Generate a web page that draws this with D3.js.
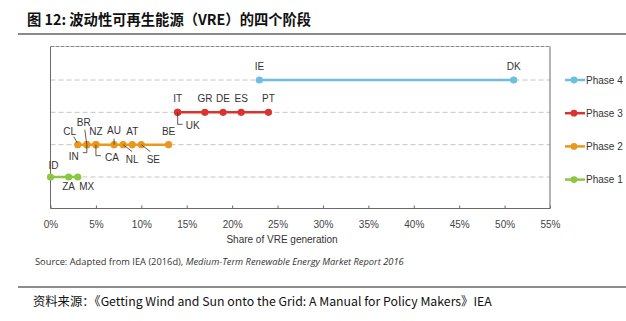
<!DOCTYPE html>
<html lang="zh">
<head>
  <meta charset="UTF-8">
  <title>波动性可再生能源（VRE）的四个阶段</title>
  <style>
    body { margin: 0; background: #fff; }
    svg { display: block; }
    .lbl { font-family: "Liberation Sans", Arial, sans-serif; font-size: 10px; fill: #333; }
    .tick text { font-family: "Liberation Sans", Arial, sans-serif; font-size: 10px; fill: #444; }
  </style>
</head>
<body>
  <div id="chart"></div>

  <script src="https://d3js.org/d3.v7.min.js"></script>
  <script>
    const width = 626, height = 321;

    // 数据：各阶段国家的 VRE 发电占比（%）
    const phases = ["Phase 1", "Phase 2", "Phase 3", "Phase 4"];
    const phase1 = [["ID", 0], ["ZA", 2], ["MX", 3]];
    const phase2 = [["CL", 3], ["BR", 4], ["IN", 4], ["NZ", 5], ["CA", 5],
                    ["AU", 7], ["NL", 8], ["AT", 9], ["SE", 10], ["BE", 13]];
    const phase3 = [["IT", 14], ["UK", 14], ["GR", 17], ["DE", 19], ["ES", 21], ["PT", 24]];
    const phase4 = [["IE", 23], ["DK", 51]];
    const xTicks = [0, 5, 10, 15, 20, 25, 30, 35, 40, 45, 50, 55];

    const series = [phase1, phase2, phase3, phase4];
    const colors = ["#8dc63f", "#e8981d", "#d9342f", "#6fbde0"];

    // 标签位置（相对数据点）；没列出的默认放在点上方
    const labelPos = {
      ID: { dx: 3, dy: -8 },
      ZA: { dx: 0, dy: 13 },
      MX: { dx: 9, dy: 13 },
      CL: { dx: -8, dy: -10, leader: [[-4, -8], [-0.5, -2]] },
      BR: { dx: -3, dy: -19, leader: [[-2, -15], [0, 0]] },
      IN: { dx: -13, dy: 15, leader: [[0, 0], [0, 8], [-4, 8]] },
      CA: { dx: 16, dy: 16, leader: [[0, 0], [0, 11], [5, 11]] },
      AU: { dx: 0, dy: -11, leader: [[0, -6], [0, 0]] },
      NL: { dx: 9, dy: 18, leader: [[0, 0], [9, 7]] },
      SE: { dx: 12, dy: 18, leader: [[0, 0], [9, 7]] },
      UK: { dx: 15, dy: 17, leader: [[0, 0], [0, 12], [5, 12]] }
    };

    const svg = d3.select("#chart").append("svg")
      .attr("width", width)
      .attr("height", height);

    // 标题
    svg.append("text")
      .attr("x", 27).attr("y", 25)
      .attr("font-family", "'Noto Sans CJK SC', sans-serif")
      .attr("font-weight", "bold")
      .attr("font-size", 14.3)
      .attr("fill", "#111")
      .text("图 12:  波动性可再生能源（VRE）的四个阶段");

    svg.append("line")
      .attr("x1", 18).attr("x2", width).attr("y1", 34).attr("y2", 34)
      .attr("stroke", "#8a8a8a").attr("stroke-width", 2);

    const plotL = 50.5, plotR = 550, plotT = 46.5, plotB = 208.5;

    const x = d3.scaleLinear().domain([0, 55]).range([plotL, plotR]);
    const y = d3.scalePoint().domain(phases).range([177, 80]);

    // 网格虚线
    svg.append("g").selectAll("line")
      .data(phases)
      .join("line")
      .attr("x1", plotL).attr("x2", plotR)
      .attr("y1", d => y(d)).attr("y2", d => y(d))
      .attr("stroke", "#c4c4c4")
      .attr("stroke-dasharray", "5,3");

    // 边框
    svg.append("line")
      .attr("x1", plotL).attr("x2", plotR).attr("y1", plotT).attr("y2", plotT)
      .attr("stroke", "#8a8a8a").attr("stroke-dasharray", "4,1");
    svg.append("path")
      .attr("d", `M${plotL},${plotT}V${plotB}H${plotR}V${plotT}`)
      .attr("fill", "none")
      .attr("stroke", "#6a6a6a");

    // x 轴
    const xAxis = d3.axisBottom(x)
      .tickValues(xTicks)
      .tickSize(-3)
      .tickPadding(12)
      .tickFormat(d => d + "%");
    const gx = svg.append("g")
      .attr("transform", `translate(0,${plotB})`)
      .call(xAxis);
    gx.select(".domain").remove();
    gx.selectAll(".tick line").attr("stroke", "#6a6a6a");

    svg.append("text")
      .attr("class", "lbl")
      .attr("x", 282).attr("y", 243)
      .attr("text-anchor", "middle")
      .attr("fill", "#222")
      .text("Share of VRE generation");

    // 各阶段连线与点
    series.forEach((pts, i) => {
      const py = y(phases[i]);
      const g = svg.append("g");

      const ext = d3.extent(pts, d => d[1]);
      g.append("line")
        .attr("x1", x(ext[0])).attr("x2", x(ext[1]))
        .attr("y1", py).attr("y2", py)
        .attr("stroke", colors[i])
        .attr("stroke-width", 2.5);

      g.selectAll("circle")
        .data(pts)
        .join("circle")
        .attr("cx", d => x(d[1]))
        .attr("cy", py)
        .attr("r", 3.6)
        .attr("fill", colors[i]);

      pts.forEach(d => {
        const cx = x(d[1]);
        const pos = labelPos[d[0]] || { dx: 0, dy: -10 };
        if (pos.leader) {
          g.append("polyline")
            .attr("points", pos.leader.map(p => [cx + p[0], py + p[1]].join(",")).join(" "))
            .attr("fill", "none")
            .attr("stroke", "#333")
            .attr("stroke-width", 0.8);
        }
        g.append("text")
          .attr("class", "lbl")
          .attr("x", cx + pos.dx)
          .attr("y", py + pos.dy)
          .attr("text-anchor", "middle")
          .text(d[0]);
      });
    });

    // 图例
    const legend = svg.append("g")
      .selectAll("g")
      .data(phases.slice().reverse())
      .join("g")
      .attr("transform", (d, i) => `translate(565,${80 + i * 33.2})`);
    legend.append("line")
      .attr("x1", 0).attr("x2", 20)
      .attr("stroke", d => colors[phases.indexOf(d)])
      .attr("stroke-width", 2.5);
    legend.append("circle")
      .attr("cx", 9).attr("r", 3.4)
      .attr("fill", d => colors[phases.indexOf(d)]);
    legend.append("text")
      .attr("class", "lbl")
      .attr("x", 21).attr("y", 3.5)
      .attr("fill", "#222")
      .text(d => d);

    // 数据来源
    const src = svg.append("text")
      .attr("x", 35).attr("y", 265)
      .attr("font-family", "'Open Sans', sans-serif")
      .attr("font-size", 9.3)
      .attr("fill", "#333");
    src.append("tspan").text("Source: Adapted from IEA (2016d), ");
    src.append("tspan").attr("font-style", "italic")
      .text("Medium-Term Renewable Energy Market Report 2016");

    svg.append("line")
      .attr("x1", 18).attr("x2", width).attr("y1", 287).attr("y2", 287)
      .attr("stroke", "#666").attr("stroke-width", 1.5);

    svg.append("text")
      .attr("x", 33).attr("y", 306)
      .attr("font-family", "'Noto Sans CJK SC', sans-serif")
      .attr("font-size", 12.3)
      .attr("fill", "#111")
      .text("资料来源：《Getting Wind and Sun onto the Grid: A Manual for Policy Makers》IEA");
  </script>
</body>
</html>
